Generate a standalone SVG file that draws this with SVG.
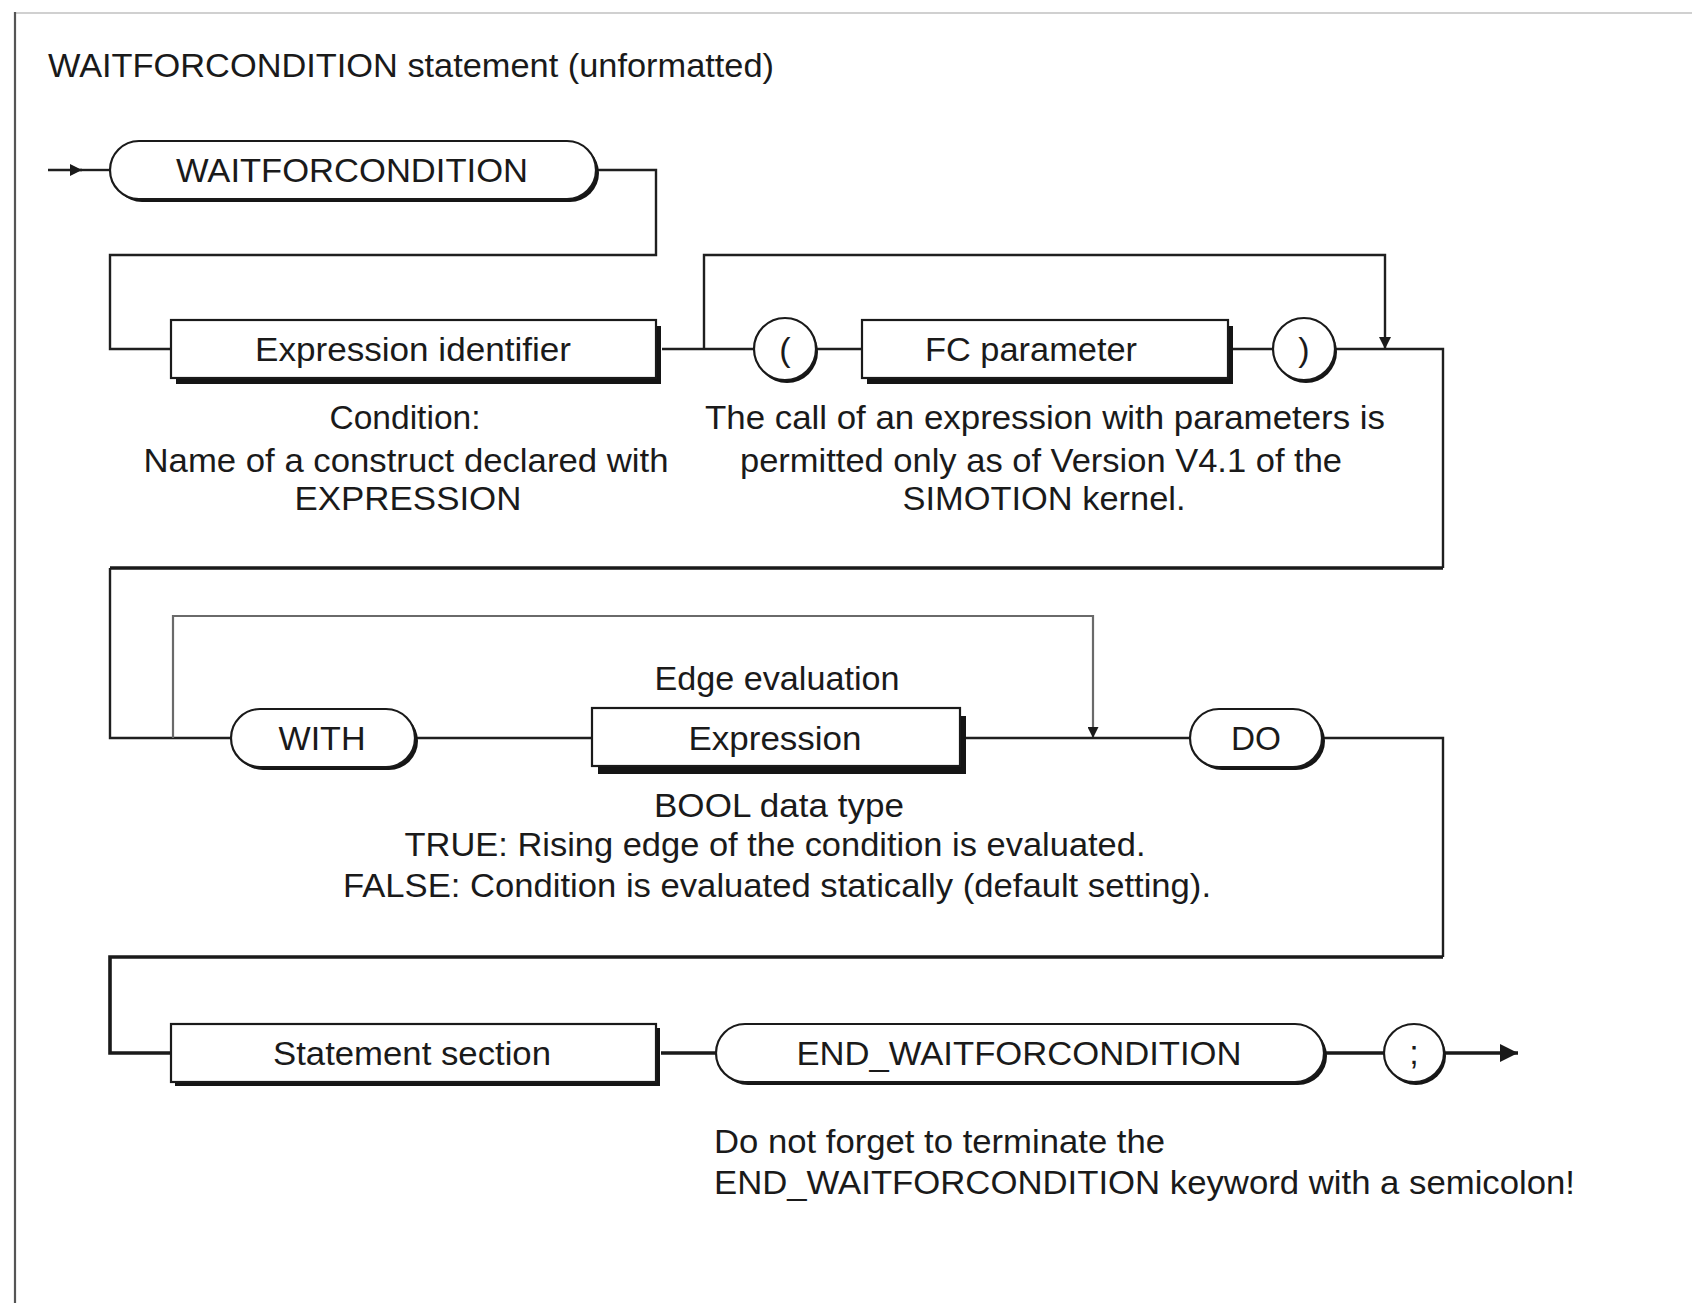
<svg xmlns="http://www.w3.org/2000/svg" width="1692" height="1303" viewBox="0 0 1692 1303">
  <style>
    text { font-family: "Liberation Sans", Arial, sans-serif; font-size: 34px; fill: #1a1a1a; }
    .c { text-anchor: middle; }
    .box { fill: #ffffff; stroke: #1a1a1a; stroke-width: 2.2; }
    .shadow { fill: #151515; }
    .line { fill: none; stroke: #1f1f1f; stroke-width: 2.4; }
    .thick { fill: none; stroke: #1a1a1a; stroke-width: 3.6; }
    .grey { fill: none; stroke: #6a6a6a; stroke-width: 2.2; }
  </style>
  <defs>
    <marker id="arrow" viewBox="0 0 10 10" refX="10" refY="5" markerWidth="5" markerHeight="5" orient="auto" markerUnits="strokeWidth">
      <path d="M0,0 L10,5 L0,10 z" fill="#1a1a1a"/>
    </marker>
  </defs>

  <!-- page frame -->
  <line x1="15" y1="13" x2="1692" y2="13" stroke="#d0d0d0" stroke-width="2"/>
  <line x1="15" y1="12" x2="15" y2="1303" stroke="#555" stroke-width="2.2"/>

  <text x="48" y="77" textLength="726" lengthAdjust="spacingAndGlyphs">WAITFORCONDITION statement (unformatted)</text>

  <!-- connectors -->
  <g id="connectors">
    <path class="line" d="M48,170 H82" marker-end="url(#arrow)"/>
    <path class="line" d="M80,170 H110"/>
    <path class="line" d="M598,170 H656 V255 H110 V349 H171"/>
    <path class="line" d="M662,349 H754"/>
    <path class="line" d="M704,349 V255 H1385 V349" marker-end="url(#arrow)"/>
    <path class="line" d="M816,349 H862"/>
    <path class="line" d="M1233,349 H1273"/>
    <path class="line" d="M1335,349 H1443 V568"/>
    <path class="thick" d="M1443,568 H110"/>
    <path class="line" d="M110,568 V738 H231"/>
    <path class="grey" d="M173,738 V616 H1093 V738" marker-end="url(#arrow)"/>
    <path class="line" d="M415,738 H592"/>
    <path class="line" d="M965,738 H1190"/>
    <path class="line" d="M1322,738 H1443 V957"/>
    <path class="thick" d="M1443,957 H110 V1053 H171"/>
    <path class="thick" d="M661,1053 H716"/>
    <path class="thick" d="M1324,1053 H1384"/>
    <path class="thick" d="M1444,1053 H1518" marker-end="url(#arrow)"/>
  </g>

  <!-- row 1 -->
  <g id="n-waitforcondition">
    <rect class="shadow" x="113" y="144" width="486" height="58" rx="29"/>
    <rect class="box" x="110" y="141" width="486" height="58" rx="29"/>
    <text class="c" x="352" y="182" textLength="352" lengthAdjust="spacingAndGlyphs">WAITFORCONDITION</text>
  </g>

  <g id="n-expression-identifier">
    <rect class="shadow" x="176" y="326" width="485" height="58"/>
    <rect class="box" x="171" y="320" width="485" height="58"/>
    <text class="c" x="413" y="361" textLength="316" lengthAdjust="spacingAndGlyphs">Expression identifier</text>
  </g>

  <g id="n-open-paren">
    <circle class="shadow" cx="787" cy="352" r="31"/>
    <circle class="box" cx="785" cy="349" r="31"/>
    <text class="c" x="785" y="361">(</text>
  </g>

  <g id="n-fc-parameter">
    <rect class="shadow" x="867" y="326" width="366" height="58"/>
    <rect class="box" x="862" y="320" width="366" height="58"/>
    <text class="c" x="1031" y="361" textLength="212" lengthAdjust="spacingAndGlyphs">FC parameter</text>
  </g>

  <g id="n-close-paren">
    <circle class="shadow" cx="1306" cy="352" r="31"/>
    <circle class="box" cx="1304" cy="349" r="31"/>
    <text class="c" x="1304" y="361">)</text>
  </g>

  <g id="note-condition">
    <text class="c" x="405" y="429" textLength="151" lengthAdjust="spacingAndGlyphs">Condition:</text>
    <text class="c" x="406" y="472" textLength="525" lengthAdjust="spacingAndGlyphs">Name of a construct declared with</text>
    <text class="c" x="408" y="510" textLength="227" lengthAdjust="spacingAndGlyphs">EXPRESSION</text>
  </g>

  <g id="note-parameters">
    <text class="c" x="1045" y="429" textLength="680" lengthAdjust="spacingAndGlyphs">The call of an expression with parameters is</text>
    <text class="c" x="1041" y="472" textLength="602" lengthAdjust="spacingAndGlyphs">permitted only as of Version V4.1 of the</text>
    <text class="c" x="1044" y="510" textLength="283" lengthAdjust="spacingAndGlyphs">SIMOTION kernel.</text>
  </g>

  <!-- row 2 -->
  <g id="n-with">
    <rect class="shadow" x="234" y="712" width="184" height="58" rx="29"/>
    <rect class="box" x="231" y="709" width="184" height="58" rx="29"/>
    <text class="c" x="322" y="750" textLength="87" lengthAdjust="spacingAndGlyphs">WITH</text>
  </g>

  <g id="n-expression">
    <rect class="shadow" x="598" y="716" width="368" height="58"/>
    <rect class="box" x="592" y="708" width="368" height="58"/>
    <text class="c" x="775" y="750" textLength="173" lengthAdjust="spacingAndGlyphs">Expression</text>
  </g>

  <g id="n-do">
    <rect class="shadow" x="1193" y="712" width="132" height="58" rx="29"/>
    <rect class="box" x="1190" y="709" width="132" height="58" rx="29"/>
    <text class="c" x="1256" y="750" textLength="50" lengthAdjust="spacingAndGlyphs">DO</text>
  </g>

  <g id="note-edge">
    <text class="c" x="777" y="690" textLength="245" lengthAdjust="spacingAndGlyphs">Edge evaluation</text>
    <text class="c" x="779" y="817" textLength="250" lengthAdjust="spacingAndGlyphs">BOOL data type</text>
    <text class="c" x="775" y="856" textLength="741" lengthAdjust="spacingAndGlyphs">TRUE: Rising edge of the condition is evaluated.</text>
    <text class="c" x="777" y="897" textLength="868" lengthAdjust="spacingAndGlyphs">FALSE: Condition is evaluated statically (default setting).</text>
  </g>

  <!-- row 3 -->
  <g id="n-statement-section">
    <rect class="shadow" x="175" y="1028" width="485" height="58"/>
    <rect class="box" x="171" y="1024" width="485" height="58"/>
    <text class="c" x="412" y="1065" textLength="278" lengthAdjust="spacingAndGlyphs">Statement section</text>
  </g>

  <g id="n-end-waitforcondition">
    <rect class="shadow" x="719" y="1027" width="608" height="58" rx="29"/>
    <rect class="box" x="716" y="1024" width="608" height="58" rx="29"/>
    <text class="c" x="1019" y="1065" textLength="445" lengthAdjust="spacingAndGlyphs">END_WAITFORCONDITION</text>
  </g>

  <g id="n-semicolon">
    <ellipse class="shadow" cx="1416" cy="1056" rx="30" ry="29"/>
    <ellipse class="box" cx="1414" cy="1053" rx="30" ry="29"/>
    <text class="c" x="1414" y="1064">;</text>
  </g>

  <g id="note-semicolon">
    <text x="714" y="1153" textLength="451" lengthAdjust="spacingAndGlyphs">Do not forget to terminate the</text>
    <text x="714" y="1194" textLength="861" lengthAdjust="spacingAndGlyphs">END_WAITFORCONDITION keyword with a semicolon!</text>
  </g>
</svg>
